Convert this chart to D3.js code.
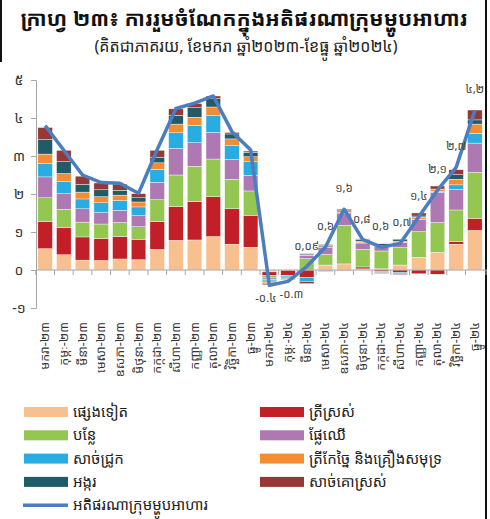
<!DOCTYPE html>
<html>
<head>
<meta charset="utf-8">
<script src="https://cdn.jsdelivr.net/npm/d3@7"></script>
<style>
  body { margin: 0; background: #fff; }
  svg text { font-family: "Noto Sans Khmer", "Khmer OS", "Noto Sans", "DejaVu Sans", sans-serif; }
</style>
</head>
<body>
<div class="canvas"></div>
<script>
const W = 490;
const H = 519;

// month labels (x axis)
const months = [
  "មករា-២៣","កុម្ភៈ-២៣","មីនា-២៣","មេសា-២៣","ឧសភា-២៣","មិថុនា-២៣",
  "កក្កដា-២៣","សីហា-២៣","កញ្ញា-២៣","តុលា-២៣","វិច្ឆិកា-២៣","ធ្នូ-២៣",
  "មករា-២៤","កុម្ភៈ-២៤","មីនា-២៤","មេសា-២៤","ឧសភា-២៤","មិថុនា-២៤",
  "កក្កដា-២៤","សីហា-២៤","កញ្ញា-២៤","តុលា-២៤","វិច្ឆិកា-២៤","ធ្នូ-២៤"
];

// contributions (percentage points), bottom to top
const other      = [0.56,0.40,0.26,0.25,0.29,0.27,0.54,0.78,0.79,0.88,0.68,0.60,-0.05,-0.01,0.00,0.13,0.16,0.03,0.03,0.13,0.33,0.46,0.68,1.04];
const freshFish  = [0.72,0.71,0.61,0.58,0.59,0.54,0.73,0.89,1.01,1.05,0.93,0.84,-0.10,-0.13,-0.20,-0.02,-0.01,0.05,-0.04,-0.06,-0.10,-0.11,0.07,0.32];
const vegetables = [0.62,0.49,0.39,0.38,0.37,0.33,0.58,0.83,0.93,0.99,0.78,0.64,-0.06,0.00,0.30,0.28,1.02,0.46,0.47,0.46,0.68,0.79,0.83,1.21];
const fruit      = [0.55,0.41,0.35,0.30,0.32,0.29,0.46,0.70,0.62,0.70,0.52,0.41,-0.04,-0.02,0.09,0.18,0.32,0.17,0.12,0.13,0.32,0.79,0.54,0.77];
const pork       = [0.35,0.32,0.26,0.26,0.26,0.23,0.34,0.41,0.45,0.44,0.36,0.36,-0.04,-0.05,-0.10,-0.02,0.01,0.01,-0.03,-0.03,0.01,0.03,0.12,0.25];
const seafood    = [0.25,0.21,0.18,0.16,0.14,0.13,0.17,0.23,0.22,0.23,0.18,0.13,-0.05,-0.01,0.01,0.02,0.05,0.04,0.03,0.04,0.05,0.04,0.15,0.25];
const rice       = [0.38,0.31,0.20,0.18,0.13,0.11,0.15,0.23,0.25,0.22,0.13,0.12,-0.02,-0.02,0.03,0.04,0.04,0.05,0.04,0.05,0.03,0.02,0.12,0.11];
const beef       = [0.32,0.30,0.22,0.18,0.16,0.11,0.18,0.17,0.11,0.07,0.04,0.03,-0.03,-0.01,-0.06,0.02,0.00,0.01,-0.02,-0.03,0.08,0.08,0.13,0.26];

// food inflation (line)
const foodInflation = [3.8,3.15,2.5,2.3,2.28,2.02,3.17,4.25,4.39,4.58,3.64,3.16,-0.4,-0.3,0.09,0.6,1.6,0.8,0.6,0.7,1.4,2.1,2.7,4.2];
const lineLabels = [null,null,null,null,null,null,null,null,null,null,null,null,
  "-០.៤","-០.៣","០,០៩","០,៦","១,៦","០,៨","០,៦","០,៧","១,៤","២,១","២,៧","៤,២"];

const yTicks = [-1, 0, 1, 2, 3, 4, 5];
const yTickLabels = ["-១","០","១","២","៣","៤","៥"];

const seriesKeys = ["other","freshFish","vegetables","fruit","pork","seafood","rice","beef"];
const seriesValues = { other, freshFish, vegetables, fruit, pork, seafood, rice, beef };
const seriesNames = {
  other: "ផ្សេងទៀត",
  freshFish: "ត្រីស្រស់",
  vegetables: "បន្លែ",
  fruit: "ផ្លែឈើ",
  pork: "សាច់ជ្រូក",
  seafood: "ត្រីកែច្នៃ និងគ្រឿងសមុទ្រ",
  rice: "អង្ករ",
  beef: "សាច់គោស្រស់"
};
const lineName = "អតិផរណាក្រុមម្ហូបអាហារ";

const color = d3.scaleOrdinal()
  .domain(seriesKeys)
  .range(["#f8c08f","#c21f28","#93c752","#ae78b2","#28ace2","#f48c31","#215b68","#953836"]);

const table = months.map((m, i) => {
  const row = { month: m };
  seriesKeys.forEach(k => row[k] = seriesValues[k][i]);
  return row;
});

const svg = d3.select('.canvas')
  .append('svg')
  .attr('width', W)
  .attr('height', H);

// frame
svg.append('line').attr('x1', 486).attr('x2', 486).attr('y1', 0).attr('y2', H)
  .attr('stroke', '#111').attr('stroke-width', 2);
svg.append('line').attr('x1', 1).attr('x2', 1).attr('y1', 0).attr('y2', 62)
  .attr('stroke', '#111').attr('stroke-width', 2);

// title
svg.append('text')
  .attr('x', 244).attr('y', 26)
  .attr('text-anchor', 'middle')
  .attr('font-size', 21).attr('font-weight', 'bold').attr('fill', '#111')
  .text("ក្រាហ្វ ២៣៖ ការរួមចំណែកក្នុងអតិផរណាក្រុមម្ហូបអាហារ");
svg.append('text')
  .attr('x', 246).attr('y', 52)
  .attr('text-anchor', 'middle')
  .attr('font-size', 16).attr('fill', '#222')
  .text("(គិតជាភាគរយ, ខែមករា ឆ្នាំ២០២៣-ខែធ្នូ ឆ្នាំ២០២៤)");

const x = d3.scaleBand()
  .domain(months)
  .range([36, 484])
  .paddingInner(0.22)
  .paddingOuter(0.1);

const y = d3.scaleLinear()
  .domain([-1, 5])
  .range([308, 80]);

const stack = d3.stack()
  .keys(seriesKeys)
  .offset(d3.stackOffsetDiverging);

const layers = svg.append('g')
  .selectAll('g')
  .data(stack(table))
  .enter()
  .append('g')
  .attr('fill', d => color(d.key));

layers.selectAll('rect')
  .data(d => d)
  .enter()
  .append('rect')
  .attr('x', d => x(d.data.month))
  .attr('width', x.bandwidth())
  .attr('y', d => y(Math.max(d[0], d[1])))
  .attr('height', d => Math.abs(y(d[0]) - y(d[1])))
  .attr('stroke', '#fff')
  .attr('stroke-width', 0.4);

// y axis
const yAxis = svg.append('g')
  .attr('transform', 'translate(36,0)')
  .call(d3.axisLeft(y).tickValues(yTicks).tickSize(5).tickFormat((d, i) => yTickLabels[i]));
yAxis.select('.domain').attr('stroke', '#a6a6a6');
yAxis.selectAll('.tick line').attr('stroke', '#a6a6a6');
yAxis.selectAll('.tick text')
  .attr('x', -17).attr('text-anchor', 'middle')
  .attr('font-size', 14).attr('fill', '#333');

// x axis along zero
const gap = x.step() - x.bandwidth();
const xAxis = svg.append('g');
xAxis.append('line')
  .attr('x1', 36).attr('x2', 487)
  .attr('y1', y(0)).attr('y2', y(0))
  .attr('stroke', '#a6a6a6').attr('stroke-width', 1.2);
xAxis.selectAll('.xtick')
  .data(months)
  .enter()
  .append('line')
  .attr('class', 'xtick')
  .attr('x1', d => x(d) - gap / 2)
  .attr('x2', d => x(d) - gap / 2)
  .attr('y1', y(0)).attr('y2', y(0) + 5)
  .attr('stroke', '#a6a6a6');
xAxis.append('line')
  .attr('x1', x.range()[1] + gap / 2).attr('x2', x.range()[1] + gap / 2)
  .attr('y1', y(0)).attr('y2', y(0) + 5)
  .attr('stroke', '#a6a6a6');

xAxis.selectAll('.xlabel')
  .data(months)
  .enter()
  .append('text')
  .attr('class', 'xlabel')
  .attr('transform', d => `translate(${x(d) + x.bandwidth() / 2 + 4},322) rotate(-90)`)
  .attr('text-anchor', 'end')
  .attr('font-size', 12.5)
  .attr('fill', '#333')
  .text(d => d);

// line
const cx = i => x(months[i]) + x.bandwidth() / 2;
const line = d3.line()
  .x((d, i) => cx(i))
  .y(d => y(d));

svg.append('path')
  .datum(foodInflation)
  .attr('d', line)
  .attr('fill', 'none')
  .attr('stroke', '#4a7ec0')
  .attr('stroke-width', 3.5)
  .attr('stroke-linejoin', 'round');

const labelData = foodInflation
  .map((v, i) => ({ v, i, label: lineLabels[i] }))
  .filter(d => d.label !== null);

const valueLabels = svg.append('g')
  .selectAll('text')
  .data(labelData)
  .enter()
  .append('text')
  .attr('x', d => cx(d.i))
  .attr('y', d => d.v < 0 ? y(d.v) + 17 : y(d.v) - 17)
  .attr('text-anchor', 'middle')
  .attr('font-size', 11.5)
  .attr('fill', '#444')
  .text(d => d.label);

// nudge neighbouring labels on the same side apart so they don't collide
const nodes = valueLabels.nodes();
const shift = nodes.map(() => 0);
for (let k = 1; k < nodes.length; k++) {
  const a = labelData[k - 1], b = labelData[k];
  if ((a.v < 0) !== (b.v < 0)) continue;
  const wa = nodes[k - 1].getComputedTextLength();
  const wb = nodes[k].getComputedTextLength();
  const overlap = (cx(a.i) + shift[k - 1] + wa / 2 + 3) - (cx(b.i) + shift[k] - wb / 2);
  const vGap = Math.abs(y(a.v) - y(b.v));
  if (overlap > 0 && vGap < 12) {
    shift[k - 1] -= overlap / 2;
    shift[k] += overlap / 2;
  }
}
valueLabels.attr('x', (d, k) => cx(d.i) + shift[k]);

// legend
const legendLeft = ["other","vegetables","pork","rice"];
const legendRight = ["freshFish","fruit","seafood","beef"];
const rowY = i => 412 + i * 23.3;

const legend = svg.append('g');
[[legendLeft, 24], [legendRight, 260]].forEach(([keys, lx]) => {
  keys.forEach((k, i) => {
    legend.append('rect')
      .attr('x', lx).attr('y', rowY(i) - 5)
      .attr('width', 44).attr('height', 10)
      .attr('fill', color(k));
    legend.append('text')
      .attr('x', lx + 49).attr('y', rowY(i) + 5)
      .attr('font-size', 15).attr('fill', '#222')
      .text(seriesNames[k]);
  });
});
legend.append('line')
  .attr('x1', 23).attr('x2', 68)
  .attr('y1', rowY(4)).attr('y2', rowY(4))
  .attr('stroke', '#4a7ec0').attr('stroke-width', 3.5);
legend.append('text')
  .attr('x', 73).attr('y', rowY(4) + 5)
  .attr('font-size', 15).attr('fill', '#222')
  .text(lineName);
</script>
</body>
</html>
